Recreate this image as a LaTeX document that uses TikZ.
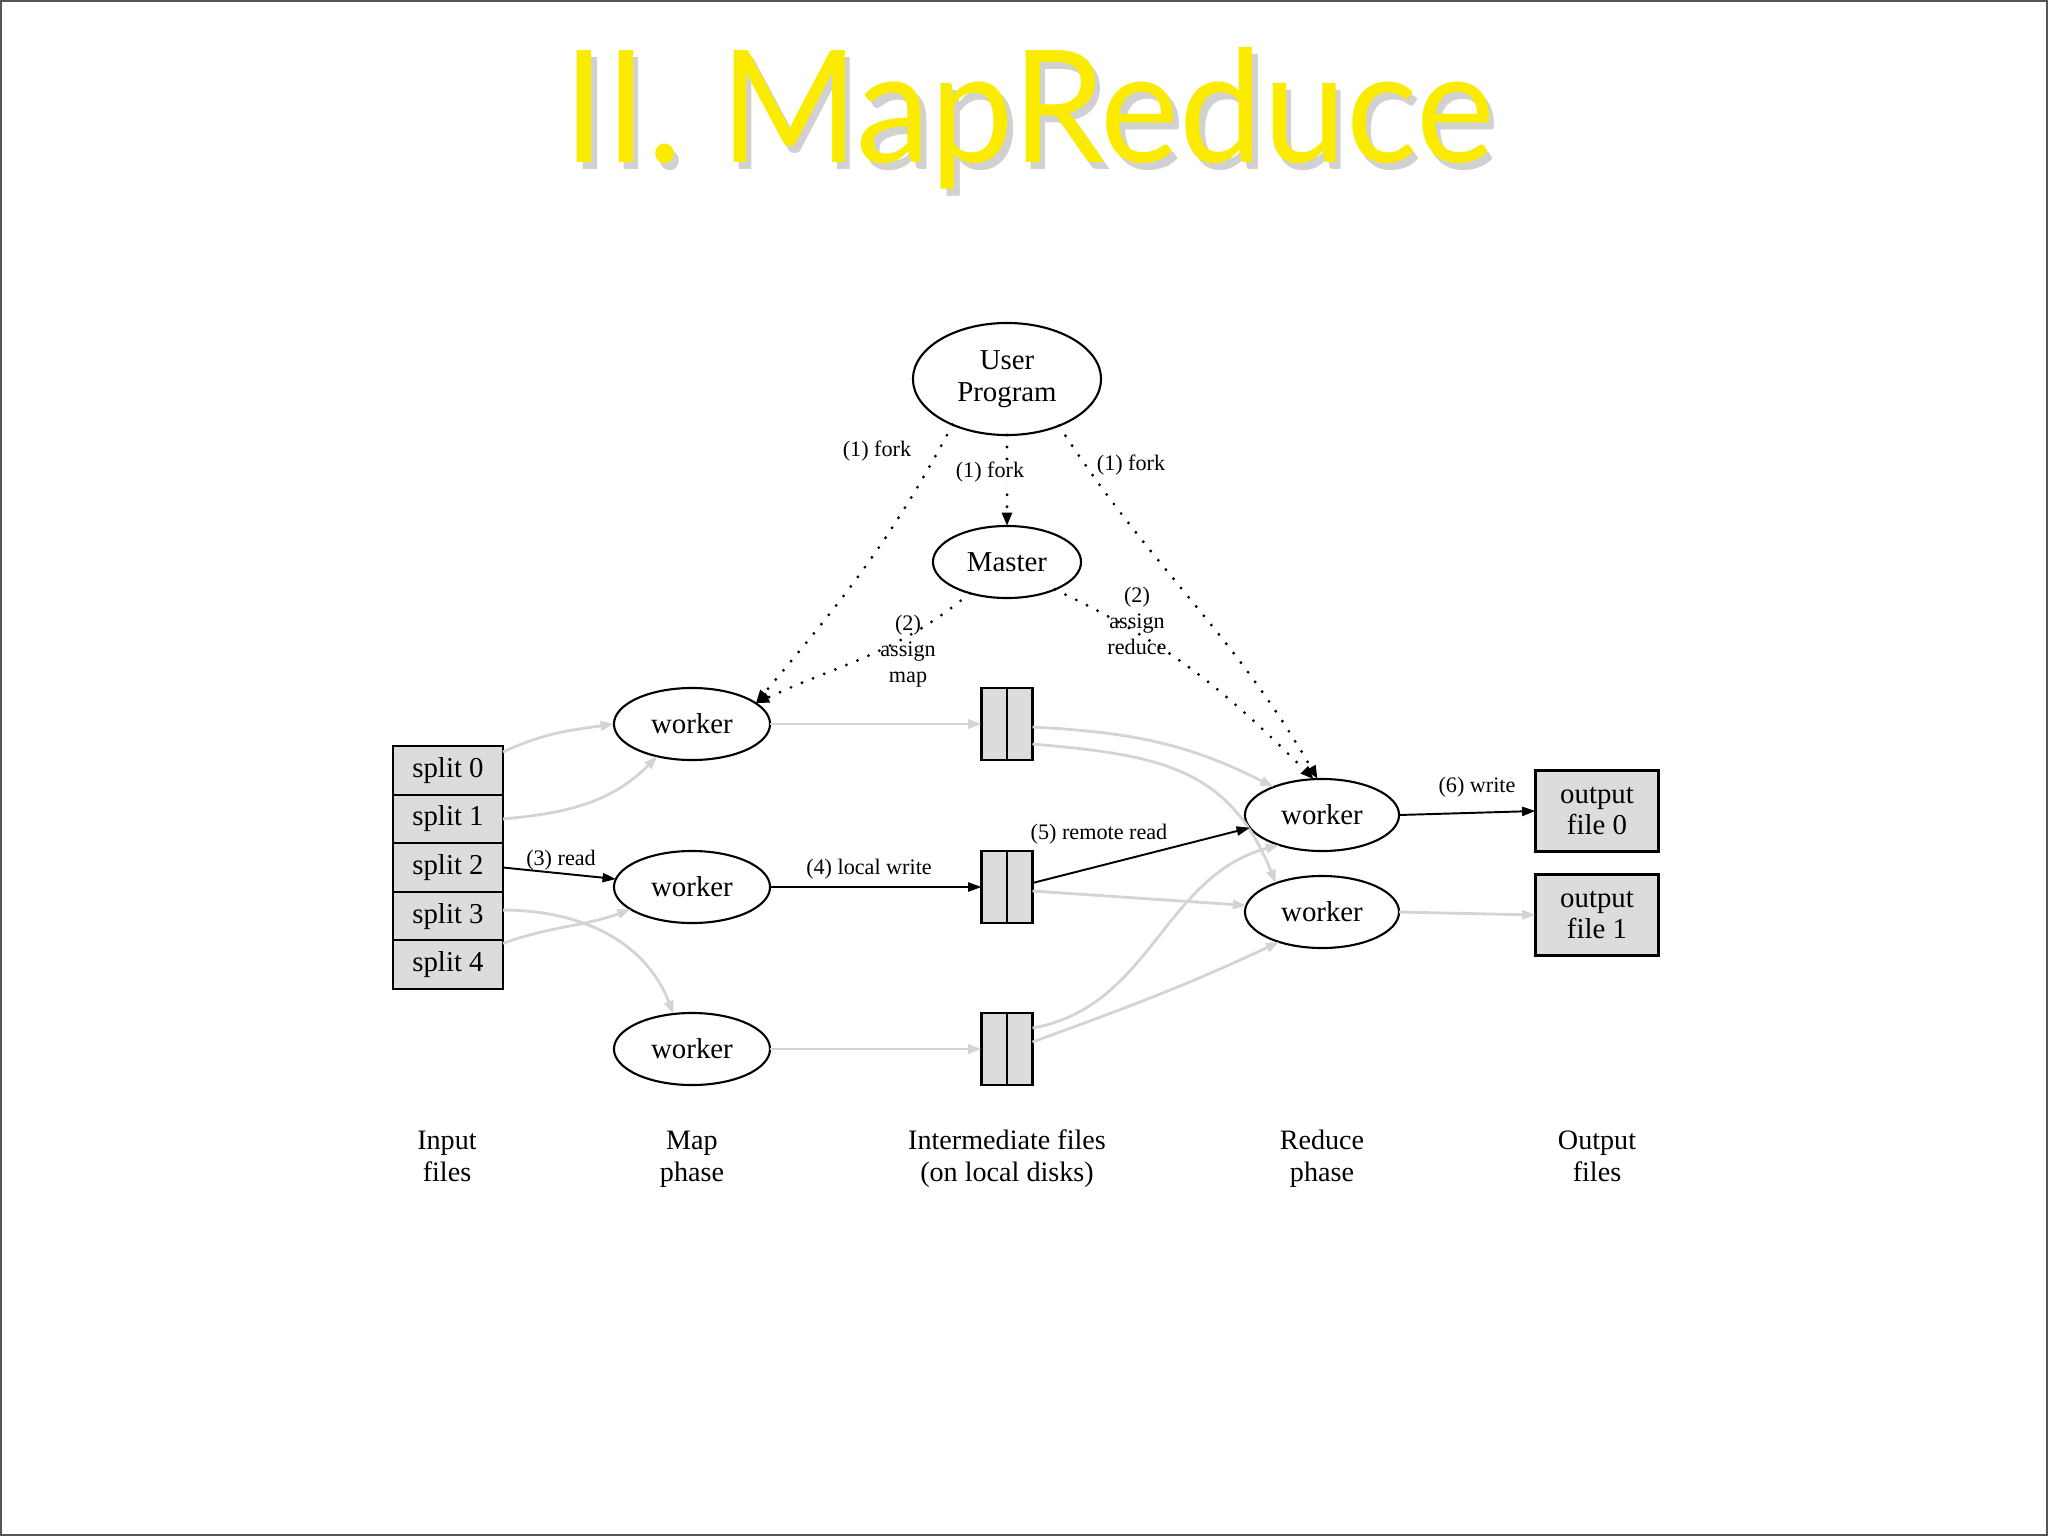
\documentclass[tikz,border=0pt]{standalone}
\usepackage{fontspec}
\setmainfont{Liberation Serif}
\newfontfamily\titlefont{Lato}
\usetikzlibrary{arrows.meta,shapes.geometric,calc}
\definecolor{boxgray}{HTML}{DCDCDC}
\definecolor{edgegray}{HTML}{D4D4D4}
\definecolor{titleyellow}{HTML}{FAEB00}
\definecolor{framegray}{HTML}{555555}
\newcommand{\mrtitle}{\resizebox{9.3cm}{1.15cm}{\titlefont II. MapReduce}}
\newcommand{\mrshadow}[3]{\makebox[0pt][l]{\hspace{#1}\raisebox{#2}{\color{#3}\mrtitle}}}
\begin{document}
\begin{tikzpicture}[x=0.01cm,y=0.01cm,
  base/.style={inner sep=0pt,outer sep=0pt,font=\fontsize{8.2}{9}\selectfont,align=center},
  ell/.style={base,ellipse,draw,line width=0.6pt},
  wk/.style={ell,minimum width=1.56cm,minimum height=0.72cm},
  sbox/.style={base,rectangle,draw,fill=boxgray,line width=0.6pt,minimum width=1.10cm,minimum height=0.486cm},
  ibox/.style={base,rectangle,draw,fill=boxgray,line width=0.6pt,minimum width=0.51cm,minimum height=0.72cm},
  obox/.style={base,rectangle,draw,fill=boxgray,line width=0.6pt,minimum width=1.23cm,minimum height=0.81cm},
  lbl/.style={inner sep=0.5pt,font=\fontsize{6.3}{7.4}\selectfont,align=center},
  phaselbl/.style={inner sep=0pt,font=\fontsize{8}{9.1}\selectfont,align=center},
  bl/.style={line width=0.55pt,-{Triangle[length=3.8pt,width=2.6pt]}},
  gr/.style={draw=edgegray,line width=0.8pt,-{Triangle[length=3.8pt,width=2.6pt]}},
  dt/.style={line width=0.9pt,line cap=round,dash pattern=on 0pt off 3.4pt,-{Triangle[length=3.8pt,width=2.8pt]}},
]
\useasboundingbox (0,0) rectangle (2048,-1536);
\fill[white] (0,0) rectangle (2048,-1536);
\draw[framegray,line width=0.6pt] (1,-1) rectangle (2047,-1535);

% title with soft shadow (one text node)
\node[inner sep=0pt,anchor=base west] (title) at (563,-162)
  {\mrshadow{0.055cm}{-0.075cm}{black!18}\color{titleyellow}\mrtitle};

% nodes
\node[ell,minimum width=1.88cm,minimum height=1.12cm] (up) at (1007,-379) {User\\Program};
\node[ell,minimum width=1.48cm,minimum height=0.72cm] (master) at (1007,-562) {Master};
\node[wk] (m1) at (692,-724) {worker};
\node[wk] (m2) at (692,-887) {worker};
\node[wk] (m3) at (692,-1049) {worker};
\node[wk,minimum width=1.54cm] (r1) at (1322,-815) {worker};
\node[wk,minimum width=1.54cm] (r2) at (1322,-912) {worker};
\node[sbox] (s0) at (448,-770.3) {split 0};
\node[sbox] (s1) at (448,-818.9) {split 1};
\node[sbox] (s2) at (448,-867.5) {split 2};
\node[sbox] (s3) at (448,-916.1) {split 3};
\node[sbox] (s4) at (448,-964.7) {split 4};
\node[ibox] (i1) at (1007,-724) {};
\node[ibox] (i2) at (1007,-887) {};
\node[ibox] (i3) at (1007,-1049) {};
\draw[line width=0.6pt] (i1.north) -- (i1.south);
\draw[line width=0.6pt] (i2.north) -- (i2.south);
\draw[line width=0.6pt] (i3.north) -- (i3.south);
\node[obox] (o0) at (1597,-811) {output\\file 0};
\node[obox] (o1) at (1597,-915) {output\\file 1};

% gray edges
\draw[gr] ($(s0.north east)+(0,-6)$) to[out=25,in=188] (m1.west);
\draw[gr] (s1.east) to[out=5,in=225] (m1.-137);
\draw[gr] ($(s3.east)+(0,6)$) to[out=0,in=111] (m3.118);
\draw[gr] ($(s4.north east)+(0,-3)$) to[out=20,in=200] (m2.-160);
\draw[gr] (m1.east) -- (i1.west);
\draw[gr] (m3.east) -- (i3.west);
\draw[gr] ($(i1.east)+(0,-3)$) to[out=-3,in=153] (r1.150);
\draw[gr] ($(i1.east)+(0,-20)$) to[out=-5,in=112,looseness=1.15] (r2.148);
\draw[gr] ($(i2.east)+(0,-4)$) -- (r2.175);
\draw[gr] ($(i3.east)+(0,21)$) to[out=10,in=195] (r1.-145);
\draw[gr] ($(i3.east)+(0,7)$) to[out=20,in=205] (r2.-145);
\draw[gr] (r2.east) -- (o1.west);

% black edges
\draw[bl] (s2.east) -- (m2.174);
\draw[bl] (m2.east) -- (i2.west);
\draw[bl] ($(i2.east)+(0,4)$) -- (r1.-170);
\draw[bl] (r1.east) -- (o0.west);

% dotted edges
\draw[dt] (up.-140) to[out=-118,in=50] (m1.18);
\draw[dt] (master.-140) to[out=-140,in=25] (m1.18);
\draw[dt] (up.south) -- (master.north);
\draw[dt] (up.-42) to[out=-57,in=120] (r1.97);
\draw[dt] (master.-30) to[out=-25,in=135] (r1.103);

% labels
\node[lbl] (f1) at (877,-451) {(1) fork};
\node[lbl,fill=white] (f2) at (990,-472) {(1) fork};
\node[lbl] (f3) at (1131,-465) {(1) fork};
\node[lbl] (am) at (908,-651) {(2)\\assign\\map};
\node[lbl] (ar) at (1137,-621) {(2)\\assign\\reduce};
\node[lbl] (l3) at (561,-860) {(3) read};
\node[lbl] (l4) at (869,-869) {(4) local write};
\node[lbl] (l5) at (1099,-834) {(5) remote read};
\node[lbl] (l6) at (1477,-787) {(6) write};

% phase labels
\node[phaselbl] (pin) at (447,-1159) {Input\strut\\files\strut};
\node[phaselbl] (pmap) at (692,-1159) {Map\strut\\phase\strut};
\node[phaselbl] (pint) at (1007,-1159) {Intermediate files\strut\\(on local disks)\strut};
\node[phaselbl] (pred) at (1322,-1159) {Reduce\strut\\phase\strut};
\node[phaselbl] (pout) at (1597,-1159) {Output\strut\\files\strut};
\end{tikzpicture}
\end{document}
